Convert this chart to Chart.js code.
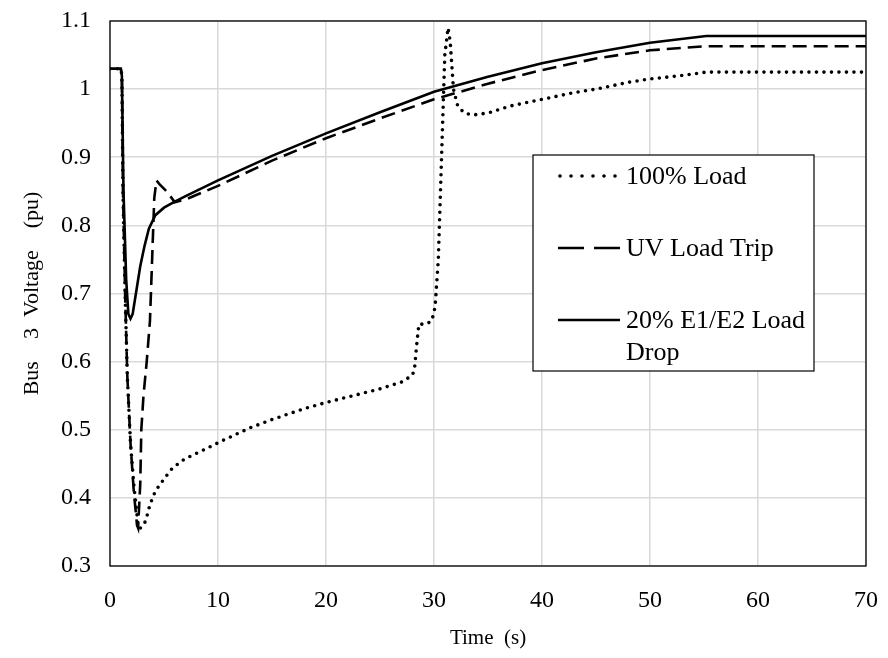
<!DOCTYPE html>
<html>
<head>
<meta charset="utf-8">
<script src="https://cdn.jsdelivr.net/npm/chart.js@4.4.1/dist/chart.umd.min.js"></script>
<style>
html,body{margin:0;padding:0;background:#fff;}
#wrap{width:888px;height:658px;}
</style>
</head>
<body>
<div id="wrap"><canvas id="c" width="888" height="658"></canvas></div>
<script>
const seriesNames = ["100% Load", "UV Load Trip", "20% E1/E2 Load Drop"];
const xTicks = [0, 10, 20, 30, 40, 50, 60, 70];
const yTicks = [0.3, 0.4, 0.5, 0.6, 0.7, 0.8, 0.9, 1.0, 1.1];

const loadTime = [0,1.0,1.1,1.2,1.4,1.6,1.9,2.2,2.6,2.75,3.0,3.3,3.7,4.2,5.1,5.8,6.9,8.5,10.4,13,15,18,20,23,25,27,28,28.2,28.4,28.6,29.3,29.8,30.1,30.4,30.7,31.0,31.3,31.5,31.8,32.2,32.8,33.6,35,37,40,43,45,48,50,53,55.2,70];
const loadVolt = [1.03,1.03,1.02,0.85,0.7,0.58,0.48,0.42,0.36,0.355,0.358,0.366,0.39,0.41,0.43,0.444,0.457,0.469,0.484,0.503,0.515,0.531,0.54,0.552,0.56,0.57,0.58,0.59,0.625,0.655,0.655,0.66,0.68,0.75,0.9,1.05,1.09,1.07,1.0,0.975,0.965,0.962,0.965,0.975,0.985,0.995,1.0,1.01,1.015,1.02,1.025,1.025];

const uvTime = [0,1.0,1.1,1.2,1.4,1.6,1.9,2.2,2.5,2.6,2.8,2.9,3.1,3.4,3.7,3.9,4.1,4.3,4.6,5.3,6.0,7,10,15,20,25,30,35,40,45,50,55.2,70];
const uvVolt = [1.03,1.03,1.02,0.85,0.7,0.58,0.48,0.41,0.36,0.356,0.42,0.5,0.55,0.6,0.66,0.75,0.84,0.866,0.86,0.849,0.834,0.838,0.858,0.895,0.928,0.957,0.985,1.008,1.028,1.045,1.057,1.063,1.063];

const dropTime = [0,1.0,1.1,1.25,1.5,1.7,1.9,2.1,2.4,2.8,3.2,3.6,4.2,5,6,7,10,15,20,25,30,35,40,45,50,55.2,70];
const dropVolt = [1.03,1.03,1.02,0.85,0.72,0.67,0.663,0.67,0.7,0.74,0.77,0.795,0.815,0.826,0.835,0.843,0.866,0.902,0.935,0.966,0.996,1.018,1.038,1.054,1.068,1.078,1.078];

function pts(t, v){ return t.map((x,i)=>({x:x, y:v[i]})); }

const FONT = "'Liberation Serif','Times New Roman',serif";

const frameAndLegend = {
  id: 'frameAndLegend',
  afterDatasetsDraw(chart){
    const ctx = chart.ctx, a = chart.chartArea;
    ctx.save();
    ctx.strokeStyle = '#000';
    ctx.lineWidth = 1.3;
    ctx.strokeRect(a.left, a.top, a.right - a.left, a.bottom - a.top);
    const bx = 533, by = 155, bw = 281, bh = 216;
    ctx.fillStyle = '#fff';
    ctx.fillRect(bx, by, bw, bh);
    ctx.lineWidth = 1.2;
    ctx.strokeRect(bx, by, bw, bh);
    const rows = [
      {y: 176, dash: [0, 11], lines: ["100% Load"]},
      {y: 248, dash: [26, 10], lines: ["UV Load Trip"]},
      {y: 320, dash: [], lines: ["20% E1/E2 Load", "Drop"]}
    ];
    chart.data.datasets.forEach((ds, i) => {
      const r = rows[i];
      ctx.save();
      ctx.strokeStyle = ds.borderColor;
      ctx.lineWidth = ds.borderWidth;
      ctx.lineCap = ds.borderCapStyle || 'butt';
      ctx.setLineDash(r.dash);
      ctx.beginPath();
      ctx.moveTo(i === 0 ? 560 : 558, r.y);
      ctx.lineTo(i === 0 ? 616 : 620, r.y);
      ctx.stroke();
      ctx.restore();
      ctx.fillStyle = '#000';
      ctx.font = '26px ' + FONT;
      ctx.textBaseline = 'middle';
      ctx.textAlign = 'left';
      r.lines.forEach((s, k) => ctx.fillText(s, 626, r.y + 1 + k * 32));
    });
    ctx.restore();
  }
};

new Chart(document.getElementById('c'), {
  type: 'line',
  data: {
    datasets: [
      {label: seriesNames[0], data: pts(loadTime, loadVolt), borderColor: '#000', borderWidth: 3.6,
       borderDash: [0, 7.5], borderCapStyle: 'round', pointRadius: 0, tension: 0, fill: false},
      {label: seriesNames[1], data: pts(uvTime, uvVolt), borderColor: '#000', borderWidth: 2.6,
       borderDash: [14, 7], borderCapStyle: 'butt', pointRadius: 0, tension: 0, fill: false},
      {label: seriesNames[2], data: pts(dropTime, dropVolt), borderColor: '#000', borderWidth: 2.6,
       borderDash: [], pointRadius: 0, tension: 0, fill: false}
    ]
  },
  options: {
    responsive: false,
    animation: false,
    devicePixelRatio: 1,
    layout: {padding: {left: 19, right: 22, top: 21, bottom: 0}},
    plugins: {legend: {display: false}, tooltip: {enabled: false}},
    scales: {
      x: {
        type: 'linear', min: 0, max: 70,
        afterBuildTicks: s => { s.ticks = xTicks.map(v => ({value: v})); },
        afterFit: s => { s.height = 92; s.paddingLeft = 0; s.paddingRight = 0; },
        grid: {color: '#d9d9d9', lineWidth: 1.5, drawTicks: false},
        border: {display: false},
        ticks: {color: '#000', font: {family: FONT, size: 24}, padding: 20, maxRotation: 0},
        title: {display: true, text: 'Time  (s)', color: '#000', font: {family: FONT, size: 21}, padding: {top: 0, bottom: 7}}
      },
      y: {
        type: 'linear', min: 0.3, max: 1.1,
        afterBuildTicks: s => { s.ticks = yTicks.map(v => ({value: v})); },
        afterFit: s => { s.width = 91; s.paddingTop = 0; s.paddingBottom = 0; },
        grid: {color: '#d9d9d9', lineWidth: 1.5, drawTicks: false},
        border: {display: false},
        ticks: {color: '#000', font: {family: FONT, size: 24}, padding: 19,
                callback: v => String(Math.round(v * 10) / 10)},
        title: {display: true, text: 'Bus    3  Voltage    (pu)', color: '#000', font: {family: FONT, size: 22}, padding: {top: 0, bottom: 0}}
      }
    }
  },
  plugins: [frameAndLegend]
});
</script>
</body>
</html>
